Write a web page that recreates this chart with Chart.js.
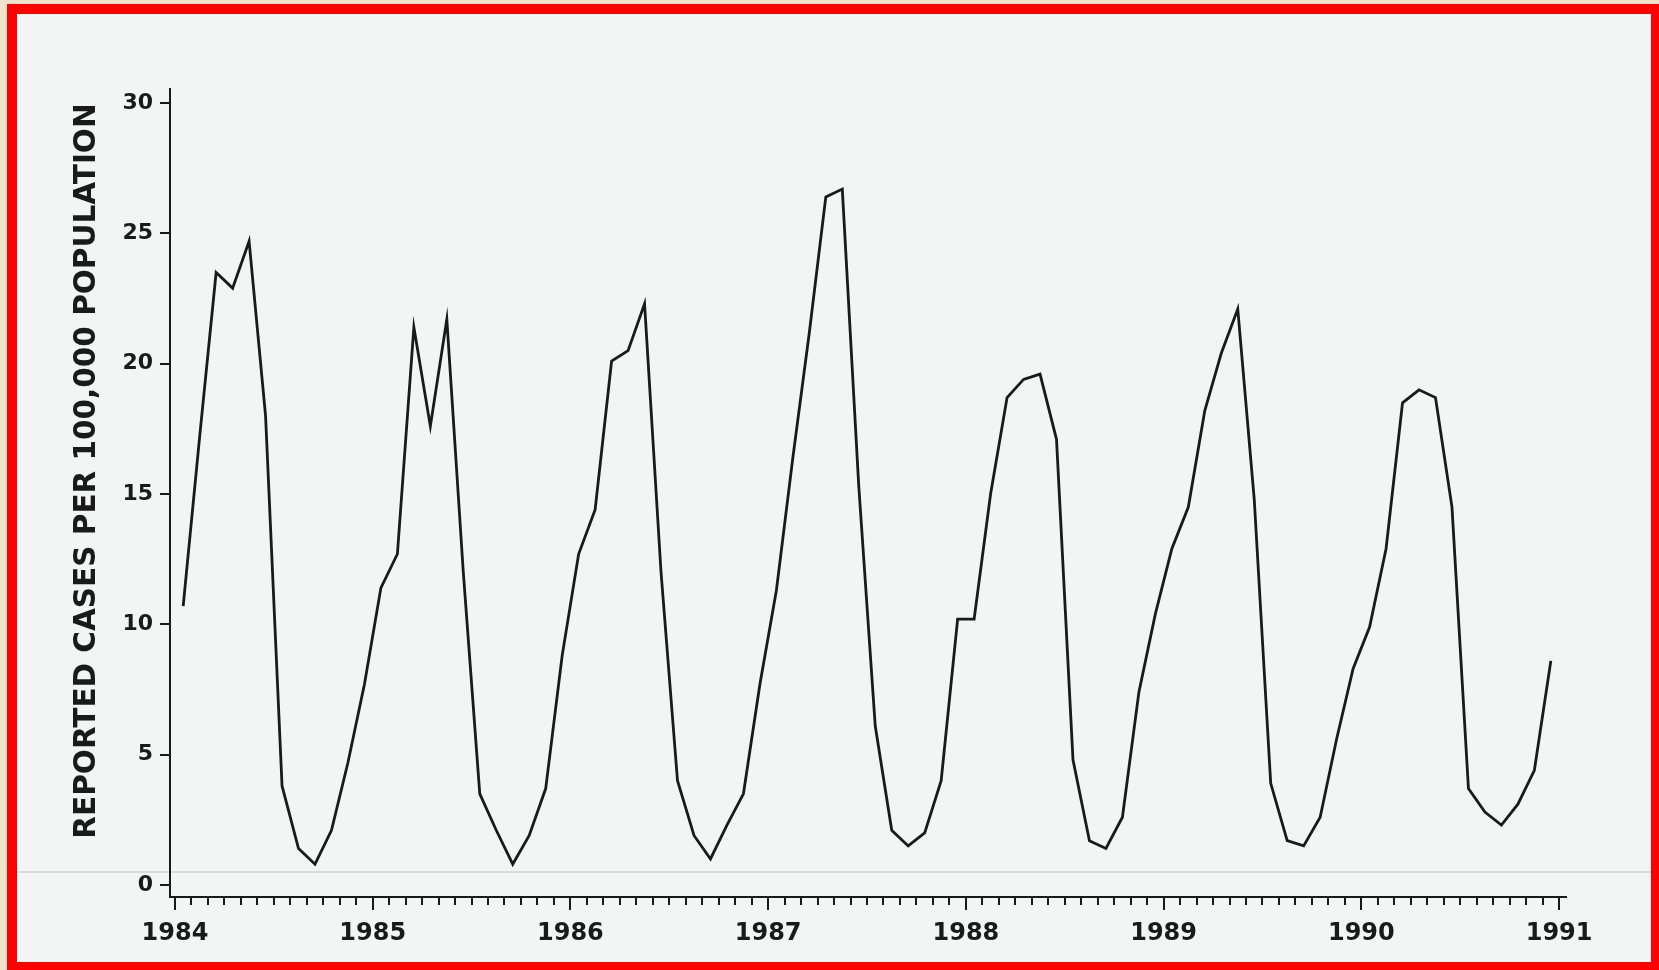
<!DOCTYPE html>
<html>
<head>
<meta charset="utf-8">
<script src="https://cdn.jsdelivr.net/npm/chart.js@4.4.1/dist/chart.umd.min.js"></script>
<style>
  html, body { margin: 0; padding: 0; }
  body { width: 1659px; height: 970px; position: relative; background: #efe4c9; overflow: hidden; }
  #sheet {
    position: absolute; left: 7px; top: 4px; right: 0; bottom: 0;
    border-style: solid; border-color: #ff0000;
    border-width: 10px 8px 8px 10px;
    background: #f3f4f4;
  }
  /* Blattkante im Scan */
  #fold { position: absolute; left: 17px; right: 8px; top: 871px; height: 2px; background: #ddd8dc; }
  #c { position: absolute; left: 0; top: 0; }
</style>
</head>
<body>
<div id="sheet"></div>
<div id="fold"></div>
<canvas id="c" width="1659" height="970"></canvas>
<script>
// Monatswerte (gemeldete Fälle je 100.000), Jan..Dez
const cases1984 = [10.7, 17.2, 23.5, 22.9, 24.7, 18.0, 3.8, 1.4, 0.8, 2.1, 4.7, 7.7];
const cases1985 = [11.4, 12.7, 21.4, 17.6, 21.7, 12.0, 3.5, 2.1, 0.8, 1.9, 3.7, 8.8];
const cases1986 = [12.7, 14.4, 20.1, 20.5, 22.3, 12.0, 4.0, 1.9, 1.0, 2.3, 3.5, 7.7];
const cases1987 = [11.3, 16.4, 21.2, 26.4, 26.7, 15.3, 6.1, 2.1, 1.5, 2.0, 4.0, 10.2];
const cases1988 = [10.2, 15.0, 18.7, 19.4, 19.6, 17.1, 4.8, 1.7, 1.4, 2.6, 7.4, 10.4];
const cases1989 = [12.9, 14.5, 18.2, 20.4, 22.1, 14.8, 3.9, 1.7, 1.5, 2.6, 5.6, 8.3];
const cases1990 = [9.9, 12.9, 18.5, 19.0, 18.7, 14.5, 3.7, 2.8, 2.3, 3.1, 4.4, 8.6];

const dataYears = [1984, 1985, 1986, 1987, 1988, 1989, 1990];
const yearTicks = [1984, 1985, 1986, 1987, 1988, 1989, 1990, 1991];
const yTicks = [0, 5, 10, 15, 20, 25, 30];
const yTitle = 'REPORTED CASES PER 100,000 POPULATION';

const byYear = [cases1984, cases1985, cases1986, cases1987, cases1988, cases1989, cases1990];

// Punkte in Monatsmitte
const points = [];
byYear.forEach((vals, i) => {
  vals.forEach((v, m) => points.push({ x: dataYears[i] + (m + 0.5) / 12, y: v }));
});

const ink = '#1a1a1a';

// kleine Monatsstriche unter der x-Achse
const monthTicks = {
  id: 'monthTicks',
  afterDraw(chart) {
    const xs = chart.scales.x;
    const ctx = chart.ctx;
    const y0 = chart.chartArea.bottom;
    ctx.save();
    ctx.strokeStyle = ink;
    ctx.lineWidth = 2;
    ctx.beginPath();
    for (let yr = yearTicks[0]; yr < yearTicks[yearTicks.length - 1]; yr++) {
      for (let m = 1; m < 12; m++) {
        const px = Math.round(xs.getPixelForValue(yr + m / 12));
        ctx.moveTo(px, y0);
        ctx.lineTo(px, y0 + 8);
      }
    }
    ctx.stroke();
    ctx.restore();
  }
};

// Achsentitel etwas oberhalb der Mitte, wie im Original
const sideTitle = {
  id: 'sideTitle',
  afterDraw(chart) {
    const ctx = chart.ctx;
    ctx.save();
    ctx.translate(87, 471);
    ctx.rotate(-Math.PI / 2);
    ctx.font = 'bold 29.5px "DejaVu Sans"';
    ctx.fillStyle = ink;
    ctx.textAlign = 'center';
    ctx.textBaseline = 'middle';
    ctx.fillText(yTitle, 0, 0);
    ctx.restore();
  }
};

new Chart(document.getElementById('c'), {
  type: 'line',
  data: {
    datasets: [{
      data: points,
      borderColor: ink,
      borderWidth: 2.8,
      pointRadius: 0,
      tension: 0,
      fill: false
    }]
  },
  options: {
    responsive: false,
    animation: false,
    devicePixelRatio: 1,
    layout: { padding: { left: 0, top: 89, right: 93, bottom: 0 } },
    plugins: {
      legend: { display: false },
      tooltip: { enabled: false }
    },
    scales: {
      x: {
        type: 'linear',
        min: 1983.975,
        max: 1991.035,
        afterBuildTicks: (axis) => { axis.ticks = yearTicks.map(v => ({ value: v })); },
        afterFit: (axis) => { axis.height = 73; },
        border: { display: true, color: ink, width: 2 },
        grid: { display: true, drawOnChartArea: false, drawTicks: true, tickLength: 13, color: ink, lineWidth: 2 },
        ticks: {
          color: ink,
          padding: 9,
          maxRotation: 0,
          autoSkip: false,
          font: { family: 'DejaVu Sans', size: 24, weight: 'bold' },
          callback: (v) => String(v)
        }
      },
      y: {
        type: 'linear',
        min: -0.46,
        max: 30.54,
        afterBuildTicks: (axis) => { axis.ticks = yTicks.map(v => ({ value: v })); },
        afterFit: (axis) => { axis.width = 170; },
        border: { display: true, color: ink, width: 2 },
        grid: { display: true, drawOnChartArea: false, drawTicks: true, tickLength: 10, color: ink, lineWidth: 2 },
        ticks: {
          color: ink,
          padding: 7,
          font: { family: 'DejaVu Sans', size: 22, weight: 'bold' },
          callback: (v) => String(v)
        }
      }
    }
  },
  plugins: [monthTicks, sideTitle]
});
</script>
</body>
</html>
